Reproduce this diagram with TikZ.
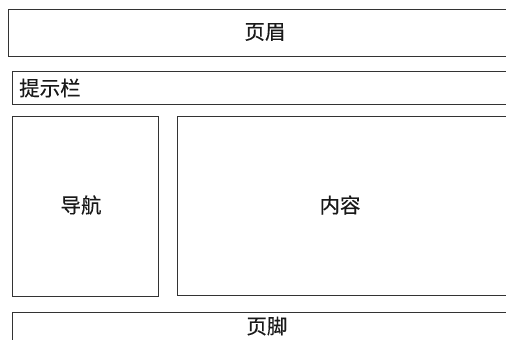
\documentclass[tikz,border=0pt]{standalone}
\usepackage{fontspec}
\newfontfamily\cjk[FakeBold=0.3]{Noto Sans CJK SC}
\usepackage{tikz}
\usetikzlibrary{positioning}
\tikzset{
  box/.style={draw=black!80,line width=1.4pt,inner sep=0pt,anchor=north west},
  lbl/.style={text=black!90,font=\cjk\fontsize{20.5}{24}\selectfont,inner sep=0pt}
}

\begin{document}
\begin{tikzpicture}[x=1pt,y=-1pt]
\useasboundingbox (0,0) rectangle (506,340);
\clip (0,0) rectangle (506,340);
\node[box,minimum width=514,minimum height=47] (header) at (8,9) {}; % header
\node[box,minimum width=510,minimum height=33] (tip) at (12,71) {}; % tip bar
\node[box,minimum width=146,minimum height=180] (nav) at (12,116) {}; % nav
\node[box,minimum width=345,minimum height=179] (content) at (177,116) {}; % content
\node[box,minimum width=510,minimum height=46] (footer) at (12,312) {}; % footer

%labels
\node[lbl] (headertext) at (265,32) {页眉};
\node[lbl,anchor=west] (tiptext) at (19,88) {提示栏};
\node[lbl] (navtext) at (81,205) {导航};
\node[lbl] (contenttext) at (340,205) {内容};
\node[lbl] (footertext) at (267,326) {页脚};
\end{tikzpicture}
\end{document}
